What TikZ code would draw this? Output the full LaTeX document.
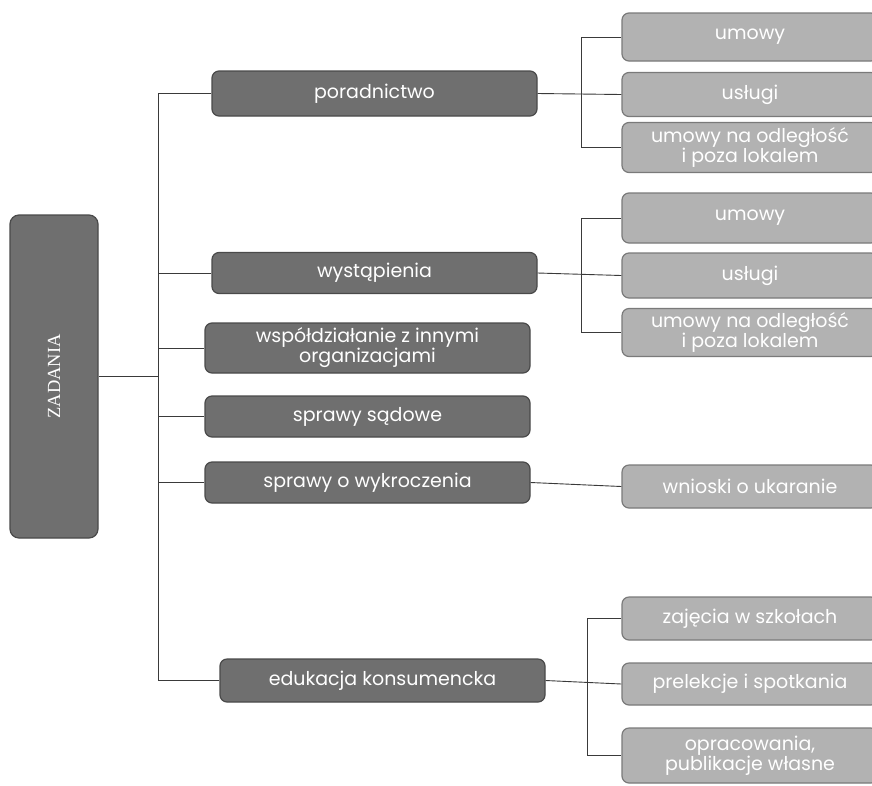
\documentclass[tikz,border=0pt]{standalone}
\usepackage{fontspec}
\setmainfont{Poppins}
\newfontfamily\zadfont{Liberation Serif}
\usetikzlibrary{calc}
\definecolor{darkbox}{HTML}{6F6F6F}
\definecolor{darkedge}{HTML}{4A4A4A}
\definecolor{lightbox}{HTML}{B2B2B2}
\definecolor{lightedge}{HTML}{7A7A7A}
\definecolor{linecol}{HTML}{3A3A3A}
\tikzset{
  rootbox/.style={draw=darkedge, fill=darkbox, line width=1.2pt, rounded corners=9pt,
    minimum width=88pt, minimum height=323pt, inner sep=0pt, text=white,
    font=\zadfont\fontsize{18.5}{20}\selectfont},
  midbox/.style={draw=darkedge, fill=darkbox, line width=1.2pt, rounded corners=7pt,
    minimum width=325pt, inner sep=0pt, text=white, align=center,
    font=\fontsize{19}{20}\selectfont},
  leafbox/.style={draw=lightedge, fill=lightbox, line width=1.2pt, rounded corners=7pt,
    minimum width=256pt, inner sep=0pt, text=white, align=center,
    font=\fontsize{19}{19}\selectfont},
  conn/.style={draw=linecol, line width=0.9pt}
}
\begin{document}
\begin{tikzpicture}[x=1pt,y=-1pt]
\useasboundingbox (0,0) rectangle (872,785);
\clip (0,0) rectangle (872,785);
\fill[white] (0,0) rectangle (872,785);

% root
\node[rootbox] (zad) at (54,376.5) {\rotatebox{90}{ZADANIA}};

% second level
\node[midbox, minimum height=45pt] (porad) at (374.5,93.5) {poradnictwo};
\node[midbox, minimum height=41pt] (wyst) at (374.5,273) {wystąpienia};
\node[midbox, minimum height=50pt] (wspol) at (367.5,348) {współdziałanie z innymi\\organizacjami};
\node[midbox, minimum height=41pt] (sad) at (367.5,416.5) {sprawy sądowe};
\node[midbox, minimum height=41pt] (wykr) at (367.5,482.5) {sprawy o wykroczenia};
\node[midbox, minimum height=43pt] (edu) at (382.5,680.5) {edukacja konsumencka};

% trunk
\coordinate (trunk) at (158,376.5);
\draw[conn] (zad.east) -- (trunk);
\draw[conn] (porad.west -| trunk) -- (edu.west -| trunk);
\foreach \n in {porad,wyst,wspol,sad,wykr,edu}
  \draw[conn] (\n.west) -- (\n.west -| trunk);

% third level, group 1
\node[leafbox, minimum height=48pt] (umowyA) at (750,37) {umowy};
\node[leafbox, minimum height=44pt] (uslugiA) at (750,94.5) {usługi};
\node[leafbox, minimum height=50pt] (odlA) at (750,147.5) {umowy na odległość\\i poza lokalem};
\coordinate (brA) at (581,94.5);
\draw[conn] (umowyA.west) -- (umowyA.west -| brA) -- (odlA.west -| brA) -- (odlA.west);
\draw[conn] (porad.east) -- (uslugiA.west);

% group 2
\node[leafbox, minimum height=50pt] (umowyB) at (750,218) {umowy};
\node[leafbox, minimum height=45pt] (uslugiB) at (750,275.5) {usługi};
\node[leafbox, minimum height=48pt] (odlB) at (750,332.5) {umowy na odległość\\i poza lokalem};
\coordinate (brB) at (581,275.5);
\draw[conn] (umowyB.west) -- (umowyB.west -| brB) -- (odlB.west -| brB) -- (odlB.west);
\draw[conn] (wyst.east) -- (uslugiB.west);

% wnioski
\node[leafbox, minimum height=43pt] (wnio) at (750,486.5) {wnioski o ukaranie};
\draw[conn] (wykr.east) -- (wnio.west);

% group 3
\node[leafbox, minimum height=43pt] (zaj) at (750,618.5) {zajęcia w szkołach};
\node[leafbox, minimum height=42pt] (prel) at (750,684) {prelekcje i spotkania};
\node[leafbox, minimum height=55pt] (opr) at (750,755.5) {opracowania,\\publikacje własne};
\coordinate (brC) at (587,684);
\draw[conn] (zaj.west) -- (zaj.west -| brC) -- (opr.west -| brC) -- (opr.west);
\draw[conn] (edu.east) -- (prel.west);
\end{tikzpicture}
\end{document}
